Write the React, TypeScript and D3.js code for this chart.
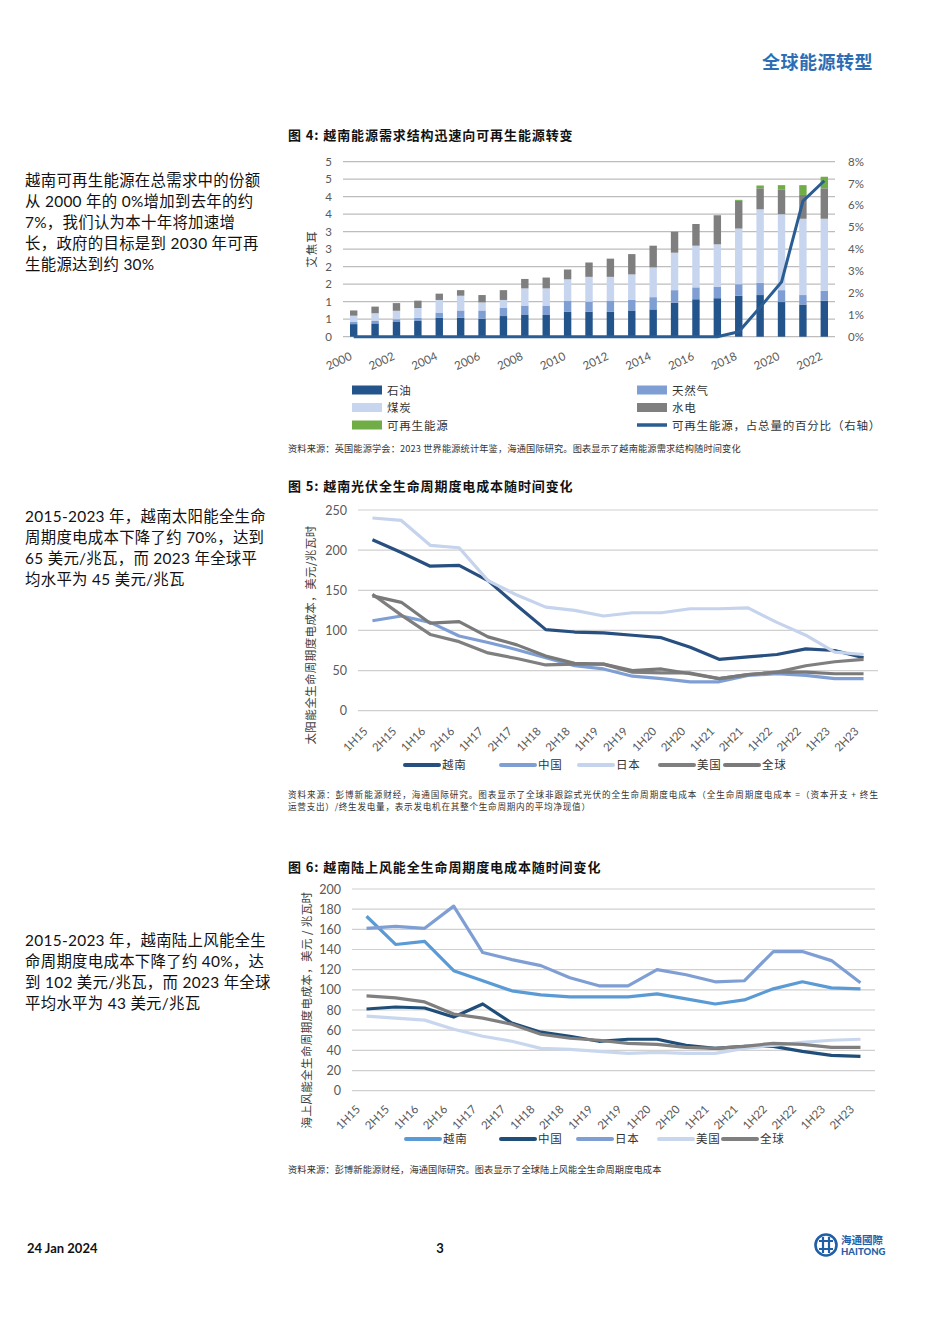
import React from "react";
import * as d3 from "d3";

// ---------- Chart 1 data (EJ) ----------
const years = ["2000","2001","2002","2003","2004","2005","2006","2007","2008","2009","2010","2011","2012","2013","2014","2015","2016","2017","2018","2019","2020","2021","2022"];
const oil =   [0.36,0.38,0.42,0.45,0.54,0.54,0.51,0.59,0.62,0.62,0.71,0.71,0.71,0.75,0.78,0.97,1.07,1.10,1.17,1.19,0.99,0.92,1.03];
const gas =   [0.07,0.07,0.08,0.09,0.15,0.21,0.24,0.23,0.27,0.27,0.31,0.29,0.31,0.30,0.35,0.36,0.34,0.33,0.33,0.35,0.34,0.27,0.28];
const coal =  [0.17,0.22,0.24,0.28,0.36,0.42,0.23,0.23,0.49,0.49,0.62,0.71,0.69,0.73,0.85,1.07,1.19,1.21,1.59,2.10,2.17,2.18,2.06];
const hydro = [0.15,0.19,0.22,0.21,0.18,0.16,0.21,0.28,0.27,0.31,0.28,0.41,0.52,0.58,0.62,0.60,0.62,0.83,0.79,0.60,0.71,0.68,0.87];
const renew = [0,0,0,0,0,0,0,0,0,0,0,0,0,0,0,0,0,0,0.03,0.08,0.12,0.28,0.33];
const renewShare = [0,0,0,0,0,0,0,0,0,0,0,0,0,0,0,0,0,0,0.0023,0.0135,0.025,0.062,0.0713];
const leftTicks = [0,0.5,1,1.5,2,2.5,3,3.5,4,4.5,5];
const leftTickLabels = ["0","1","1","2","2","3","3","4","4","5","5"];
const rightTicks = [0,0.01,0.02,0.03,0.04,0.05,0.06,0.07,0.08];
const rightTickLabels = ["0%","1%","2%","3%","4%","5%","6%","7%","8%"];
const xLabelYears = ["2000","2002","2004","2006","2008","2010","2012","2014","2016","2018","2020","2022"];

// ---------- Chart 2 & 3 categories ----------
const halves = ["1H15","2H15","1H16","2H16","1H17","2H17","1H18","2H18","1H19","2H19","1H20","2H20","1H21","2H21","1H22","2H22","1H23","2H23"];

// Solar LCOE (USD/MWh)
const solarVN = [213,197,180,181,162,131,101,98,97,94,91,79,64,67,70,77,75,66];
const solarCN = [112,118,110,93,85,76,66,56,52,43,40,36,36,44,46,44,40,40];
const solarJP = [240,237,206,203,162,144,129,125,118,122,122,127,127,128,110,94,73,70];
const solarUS = [145,119,95,86,72,65,57,58,58,48,47,47,40,45,48,56,61,64];
const solarGL = [143,135,109,111,92,82,68,59,58,50,52,46,40,45,48,48,46,46];
const solarTicks = [0,50,100,150,200,250];

// Onshore wind LCOE (USD/MWh)
const windVN = [173,145,148,119,109,99,95,93,93,93,96,91,86,90,101,108,102,101];
const windCN = [81,83,82,73,86,67,58,54,49,51,51,45,42,44,44,39,35,34];
const windJP = [161,163,161,183,137,130,124,112,104,104,120,115,108,109,138,138,129,107];
const windUS = [74,72,70,61,54,49,42,41,39,37,38,37,37,42,45,48,50,51];
const windGL = [94,92,88,76,72,66,56,52,50,47,46,43,42,44,47,46,43,43];
const windTicks = [0,20,40,60,80,100,120,140,160,180,200];

const CJK = "'Noto Sans CJK SC', sans-serif";
const NUM = "Lato, 'Noto Sans CJK SC', sans-serif";
const AX = "#595959";

type Series = { name: string; values: number[]; color: string };

function LineChart(props: {
  series: Series[]; ticks: number[]; yDomain: [number, number]; yRange: [number, number];
  xRange: [number, number]; tickX: number; labelDx: number; labelY: number;
  title: string; titleX: number; titleY: number; legendY: number; legendX: number[];
}) {
  const x = d3.scalePoint<string>().domain(halves).range(props.xRange).padding(0.5);
  const y = d3.scaleLinear().domain(props.yDomain).range(props.yRange);
  const line = d3.line<number>().x((_, i) => x(halves[i]) as number).y((d) => y(d));
  return (
    <g>
      {props.ticks.map((t) => (
        <g key={t}>
          <line x1={props.xRange[0]} x2={props.xRange[1]} y1={y(t)} y2={y(t)} stroke="#d0d0d0" strokeWidth={1.2} />
          <text x={props.tickX} y={y(t) + 4.5} textAnchor="end" fontFamily={NUM} fontSize={12.5} fill={AX}>{t}</text>
        </g>
      ))}
      {halves.map((h) => (
        <text key={h} transform={`translate(${(x(h) as number) + props.labelDx},${props.labelY}) rotate(-45)`} textAnchor="end" fontFamily={NUM} fontSize={11.5} fill={AX}>{h}</text>
      ))}
      <text transform={`translate(${props.titleX},${props.titleY}) rotate(-90)`} textAnchor="middle" fontFamily={CJK} fontSize={11.5} letterSpacing={0.4} fill="#404040">{props.title}</text>
      {props.series.map((s) => (
        <path key={s.name} d={line(s.values) as string} fill="none" stroke={s.color} strokeWidth={3.2} strokeLinejoin="round" />
      ))}
      {props.series.map((s, i) => (
        <g key={s.name + "lg"}>
          <line x1={props.legendX[i]} x2={props.legendX[i] + 34} y1={props.legendY} y2={props.legendY} stroke={s.color} strokeWidth={4} strokeLinecap="round" />
          <text x={props.legendX[i] + 37} y={props.legendY + 4} fontFamily={CJK} fontSize={11.5} letterSpacing={0.8} fill="#333">{s.name}</text>
        </g>
      ))}
    </g>
  );
}

function Chart1() {
  const x = d3.scalePoint<string>().domain(years).range([343, 835]).padding(0.5);
  const y = d3.scaleLinear().domain([0, 5]).range([336.7, 161.7]);
  const yr = d3.scaleLinear().domain([0, 0.08]).range([336.7, 161.7]);
  const rows = years.map((yy, i) => ({ year: yy, oil: oil[i], gas: gas[i], coal: coal[i], hydro: hydro[i], renew: renew[i] }));
  const keys = ["oil", "gas", "coal", "hydro", "renew"];
  const colors: Record<string, string> = { oil: "#24548C", gas: "#7F9FD4", coal: "#C7D5EE", hydro: "#7F7F7F", renew: "#70AD47" };
  const stacked = d3.stack<any>().keys(keys)(rows);
  const bw = 7.4;
  const line = d3.line<number>().x((_, i) => x(years[i]) as number).y((d) => yr(d));
  const legend = [
    { key: "oil", label: "石油", lx: 352, ly: 390 },
    { key: "gas", label: "天然气", lx: 637, ly: 390 },
    { key: "coal", label: "煤炭", lx: 352, ly: 407.5 },
    { key: "hydro", label: "水电", lx: 637, ly: 407.5 },
    { key: "renew", label: "可再生能源", lx: 352, ly: 425 },
  ];
  return (
    <g>
      {leftTicks.map((t, i) => (
        <g key={t}>
          <line x1={343} x2={835} y1={y(t)} y2={y(t)} stroke="#bdbdbd" strokeWidth={1.2} />
          <text x={332} y={y(t) + 4} textAnchor="end" fontFamily={NUM} fontSize={11.5} fill={AX}>{leftTickLabels[i]}</text>
        </g>
      ))}
      {rightTicks.map((t, i) => (
        <text key={t} x={848} y={yr(t) + 4} fontFamily={NUM} fontSize={11.5} fill={AX}>{rightTickLabels[i]}</text>
      ))}
      {xLabelYears.map((yy) => (
        <text key={yy} transform={`translate(${(x(yy) as number) - 1},${359}) rotate(-25)`} textAnchor="end" fontFamily={NUM} fontSize={11.5} fill={AX}>{yy}</text>
      ))}
      <text transform="translate(316,249) rotate(-90)" textAnchor="middle" fontFamily={CJK} fontSize={11.5} letterSpacing={1} fill="#404040">艾焦耳</text>
      {stacked.map((layer) => (
        <g key={layer.key} fill={colors[layer.key]}>
          {layer.map((d, i) => (
            d[1] - d[0] > 0 ? <rect key={i} x={(x(years[i]) as number) - bw / 2} width={bw} y={y(d[1])} height={y(d[0]) - y(d[1])} /> : null
          ))}
        </g>
      ))}
      <path d={line(renewShare) as string} fill="none" stroke="#2A5D92" strokeWidth={3} strokeLinejoin="round" />
      {legend.map((l) => (
        <g key={l.key}>
          <rect x={l.lx} y={l.ly - 4.5} width={30} height={9} fill={colors[l.key]} />
          <text x={l.lx + 35} y={l.ly + 4.5} fontFamily={CJK} fontSize={11.5} letterSpacing={0.8} fill="#333">{l.label}</text>
        </g>
      ))}
      <line x1={637} x2={667} y1={425} y2={425} stroke="#2A5D92" strokeWidth={3.5} />
      <text x={672} y={429.5} fontFamily={CJK} fontSize={11.5} letterSpacing={0.8} fill="#333">可再生能源，占总量的百分比（右轴）</text>
    </g>
  );
}

function Para(props: { x: number; y: number; lines: string[] }) {
  return (
    <g>
      {props.lines.map((l, i) => (
        <text key={i} x={props.x} y={props.y + i * 21} fontFamily={NUM} fontSize={15.4} letterSpacing={0.3} fill="#111">{l}</text>
      ))}
    </g>
  );
}

export default function App() {
  const solarSeries: Series[] = [
    { name: "越南", values: solarVN, color: "#274F80" },
    { name: "中国", values: solarCN, color: "#7F9FD4" },
    { name: "日本", values: solarJP, color: "#C5D3EC" },
    { name: "美国", values: solarUS, color: "#7F7F7F" },
    { name: "全球", values: solarGL, color: "#7A7A7A" },
  ];
  const windSeries: Series[] = [
    { name: "越南", values: windVN, color: "#5B9BD5" },
    { name: "中国", values: windCN, color: "#1F4E79" },
    { name: "日本", values: windJP, color: "#7F9FD4" },
    { name: "美国", values: windUS, color: "#C9D7EE" },
    { name: "全球", values: windGL, color: "#7F7F7F" },
  ];
  return (
    <div style={{ position: "absolute", left: 0, top: 0, width: 950, height: 1343, background: "#fff" }}>
      <svg width={950} height={1343} viewBox="0 0 950 1343" style={{ display: "block" }}>
        <rect width={950} height={1343} fill="#fff" />
        <text x={873} y={69} textAnchor="end" fontFamily={CJK} fontSize={18} fontWeight={700} letterSpacing={0.5} fill="#2E6DB4">全球能源转型</text>

        <Para x={25} y={186} lines={["越南可再生能源在总需求中的份额", "从 2000 年的 0%增加到去年的约", "7%，我们认为本十年将加速增", "长，政府的目标是到 2030 年可再", "生能源达到约 30%"]} />
        <Para x={25} y={522} lines={["2015-2023 年，越南太阳能全生命", "周期度电成本下降了约 70%，达到", "65 美元/兆瓦，而 2023 年全球平", "均水平为 45 美元/兆瓦"]} />
        <Para x={25} y={946} lines={["2015-2023 年，越南陆上风能全生", "命周期度电成本下降了约 40%，达", "到 102 美元/兆瓦，而 2023 年全球", "平均水平为 43 美元/兆瓦"]} />

        <text x={288} y={140} fontFamily={CJK} fontSize={13} fontWeight={700} letterSpacing={0.9} fill="#111">图 4:  越南能源需求结构迅速向可再生能源转变</text>
        <Chart1 />
        <text x={288} y={452} fontFamily={CJK} fontSize={9.2} letterSpacing={0.15} fill="#333">资料来源：英国能源学会：2023 世界能源统计年鉴，海通国际研究。图表显示了越南能源需求结构随时间变化</text>

        <text x={288} y={491} fontFamily={CJK} fontSize={13} fontWeight={700} letterSpacing={0.9} fill="#111">图 5:  越南光伏全生命周期度电成本随时间变化</text>
        <LineChart series={solarSeries} ticks={solarTicks} yDomain={[0, 250]} yRange={[710.7, 510]} xRange={[358, 878]}
          tickX={347} labelDx={-4} labelY={732} title="太阳能全生命周期度电成本，美元/兆瓦时" titleX={315} titleY={635}
          legendY={765} legendX={[405, 501, 579, 660, 725]} />
        <text x={288} y={798} fontFamily={CJK} fontSize={8.6} fill="#333" textLength={590} lengthAdjust="spacing">资料来源：彭博新能源财经，海通国际研究。图表显示了全球非跟踪式光伏的全生命周期度电成本（全生命周期度电成本 =（资本开支 + 终生</text>
        <text x={288} y={810} fontFamily={CJK} fontSize={8.6} fill="#333" textLength={302} lengthAdjust="spacing">运营支出）/终生发电量，表示发电机在其整个生命周期内的平均净现值）</text>

        <text x={288} y={872} fontFamily={CJK} fontSize={13} fontWeight={700} letterSpacing={0.9} fill="#111">图 6:  越南陆上风能全生命周期度电成本随时间变化</text>
        <LineChart series={windSeries} ticks={windTicks} yDomain={[0, 200]} yRange={[1090.7, 889]} xRange={[352, 875]}
          tickX={341} labelDx={-5.5} labelY={1110} title="海上风能全生命周期度电成本，美元 / 兆瓦时" titleX={311} titleY={1010}
          legendY={1139} legendX={[406, 501, 578, 659, 723]} />
        <text x={288} y={1173} fontFamily={CJK} fontSize={9.2} letterSpacing={0.15} fill="#333">资料来源：彭博新能源财经，海通国际研究。图表显示了全球陆上风能全生命周期度电成本</text>

        <text x={27} y={1253} fontFamily={NUM} fontSize={13} fontWeight={700} fill="#111">24 Jan 2024</text>
        <text x={440} y={1253} textAnchor="middle" fontFamily={NUM} fontSize={13} fontWeight={700} fill="#111">3</text>
        <g>
          <circle cx={826} cy={1245} r={10.5} fill="none" stroke="#1E5FA8" strokeWidth={2.6} />
          <path d="M819,1241 H833 M819,1249 H833 M823,1237 V1253 M829,1237 V1253" stroke="#1E5FA8" strokeWidth={2.2} fill="none" />
          <text x={841} y={1244} fontFamily={CJK} fontSize={10.5} fontWeight={700} fill="#1E5FA8">海通國際</text>
          <text x={841} y={1255} fontFamily={NUM} fontSize={9.5} fontWeight={900} fill="#1E5FA8">HAITONG</text>
        </g>
      </svg>
    </div>
  );
}
